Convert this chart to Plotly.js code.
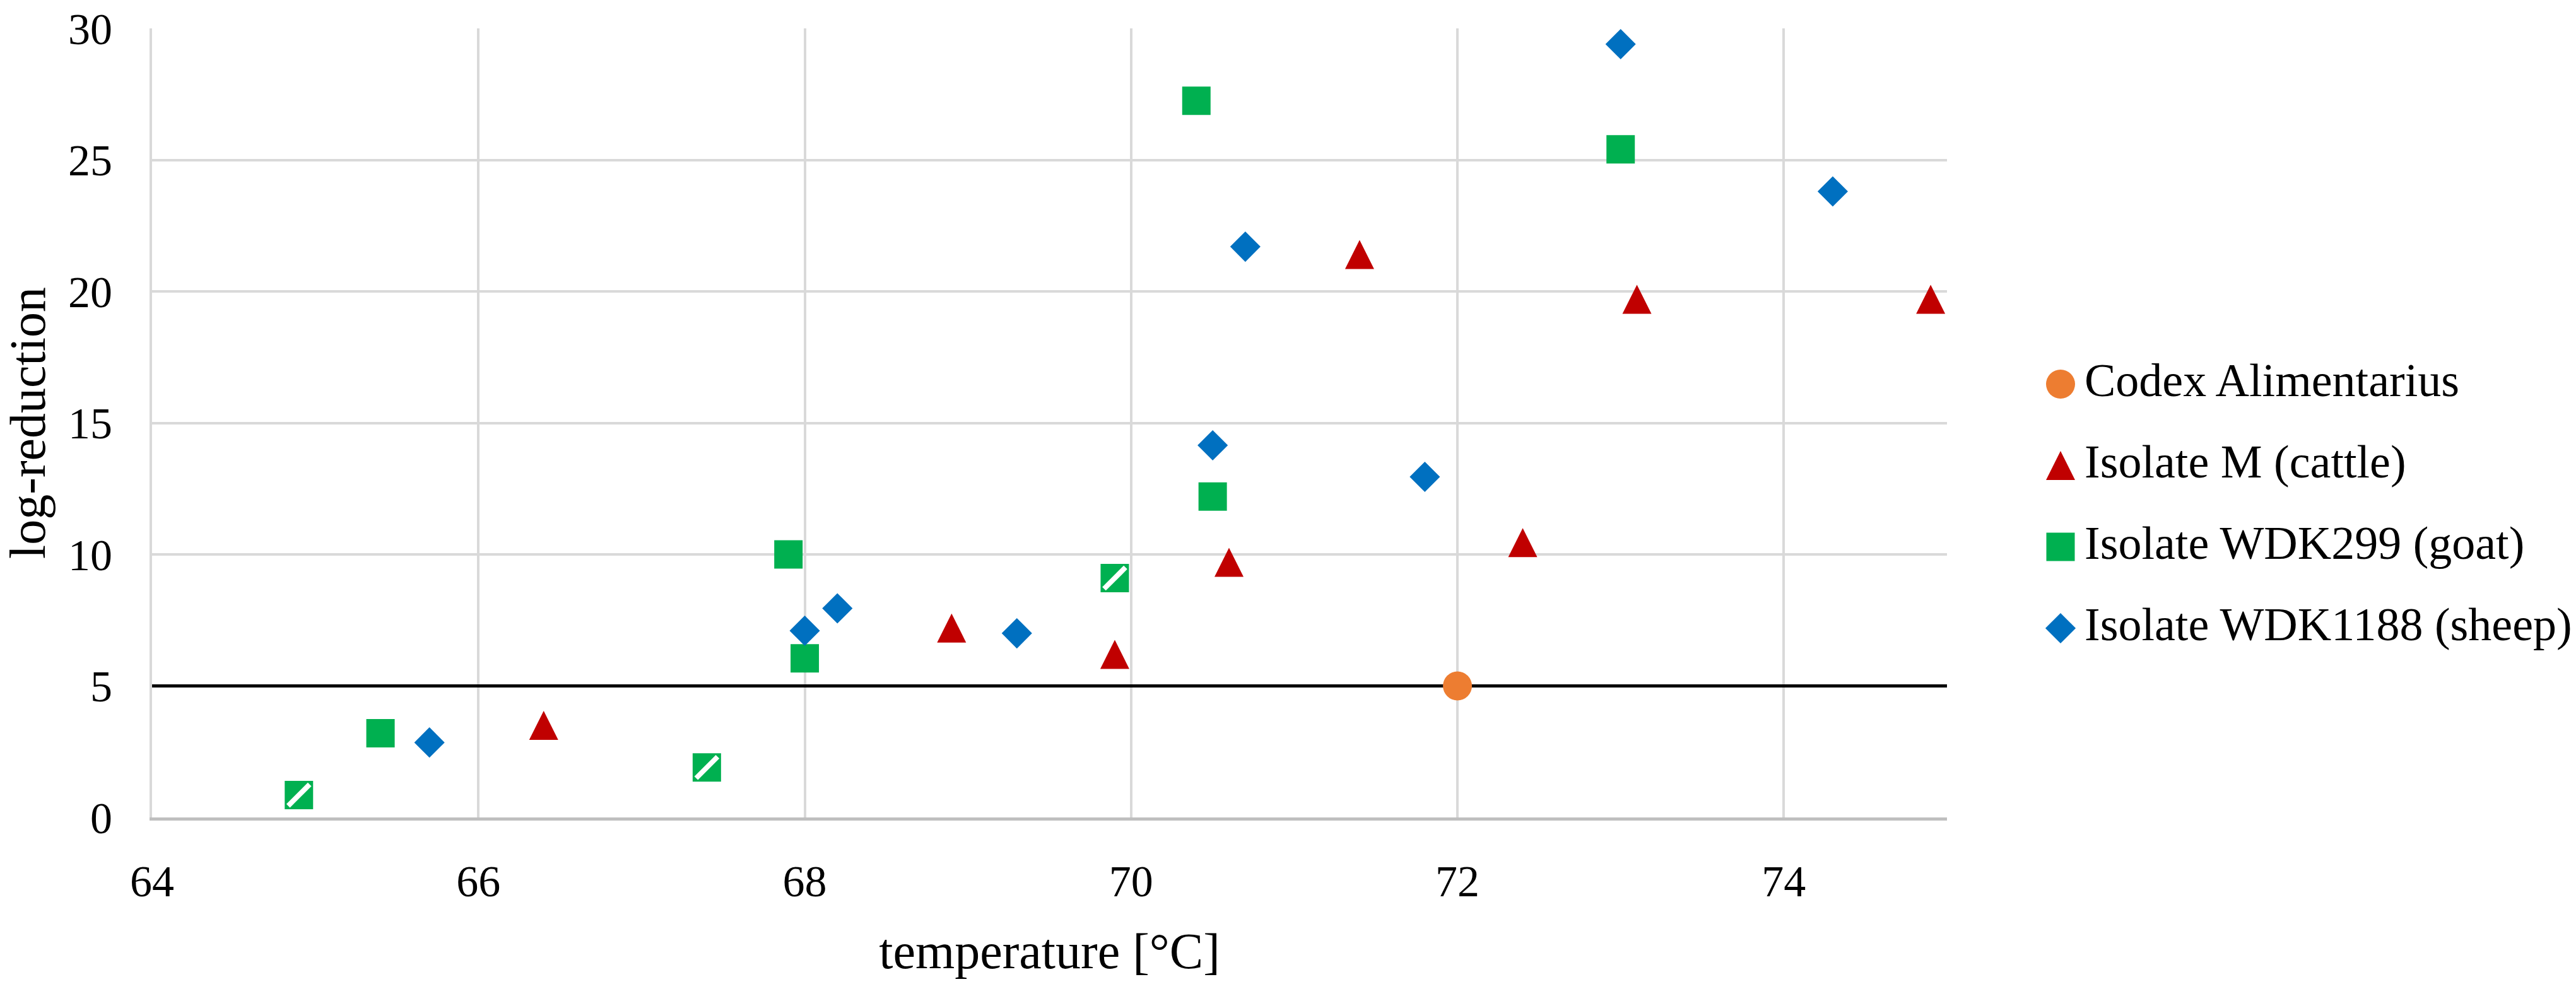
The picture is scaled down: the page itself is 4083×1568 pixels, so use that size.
<!DOCTYPE html>
<html>
<head>
<meta charset="utf-8">
<script src="https://cdn.plot.ly/plotly-3.0.1.min.js"></script>
<style>html,body{margin:0;padding:0;background:#fff;}#chart{width:4083px;height:1568px;}</style>
</head>
<body>
<div id="chart"></div>
<script>
// ---- data ----
var seriesNames = ["Codex Alimentarius", "Isolate M (cattle)", "Isolate WDK299 (goat)", "Isolate WDK1188 (sheep)"];
var codexX = [72];
var codexY = [5];
var cattleX = [66.4, 68.9, 69.9, 70.6, 71.4, 72.4, 73.1, 74.9];
var cattleY = [3.5, 7.2, 6.2, 9.7, 21.4, 10.45, 19.7, 19.7];
var goatX = [65.4, 67.9, 68.0, 70.4, 70.5, 73.0];
var goatY = [3.2, 10.0, 6.05, 27.25, 12.2, 25.4];
var goatHatchX = [64.9, 67.4, 69.9];
var goatHatchY = [0.85, 1.9, 9.1];
var sheepX = [65.7, 68.0, 68.2, 69.3, 70.5, 70.7, 71.8, 73.0, 74.3];
var sheepY = [2.85, 7.1, 7.95, 7.0, 14.15, 21.7, 12.95, 29.4, 23.8];
var xRange = [64, 75];
var yRange = [0, 30];
var xTickVals = [64, 66, 68, 70, 72, 74];
var yTickVals = [0, 5, 10, 15, 20, 25, 30];
var thresholdY = 5;

// ---- styles ----
var colors = ["#ED7D31", "#C00000", "#00B050", "#0070C0"];
var FONT = "Liberation Serif, Times New Roman, serif";
var triSize = 46;
var symbols = ["circle", "arrow-down", "square", "diamond"];
var sizes = [46, triSize, 45, 37];
var angles = [0, 180, 0, 0];
var standoffs = [0, triSize / 2, 0, 0];

function mk(i) {
  return {symbol: symbols[i], size: sizes[i], color: colors[i], angle: angles[i],
          standoff: standoffs[i], opacity: 1, line: {width: 0}};
}

var traces = [
  {x: xRange, y: xRange.map(function () { return thresholdY; }), mode: "lines", type: "scatter",
   name: "threshold", line: {color: "#000000", width: 5}, hoverinfo: "skip"},
  {x: codexX, y: codexY, mode: "markers", type: "scatter", name: seriesNames[0], marker: mk(0), cliponaxis: false},
  {x: cattleX, y: cattleY, mode: "markers", type: "scatter", name: seriesNames[1], marker: mk(1), cliponaxis: false},
  {x: goatX, y: goatY, mode: "markers", type: "scatter", name: seriesNames[2], marker: mk(2), cliponaxis: false},
  {x: goatHatchX, y: goatHatchY, mode: "markers", type: "scatter", name: seriesNames[2], marker: mk(2), cliponaxis: false},
  {x: goatHatchX, y: goatHatchY, mode: "markers", type: "scatter", name: seriesNames[2],
   marker: {symbol: "line-ne", size: 34, line: {color: "#ffffff", width: 8}}, cliponaxis: false},
  {x: sheepX, y: sheepY, mode: "markers", type: "scatter", name: seriesNames[3], marker: mk(3), cliponaxis: false}
];

// custom legend (large markers) on its own hidden axes
var legIdx = seriesNames.map(function (_, i) { return i; });
traces.push({
  x: legIdx.map(function () { return 0; }), y: legIdx, xaxis: "x2", yaxis: "y2",
  mode: "markers", type: "scatter", hoverinfo: "skip", cliponaxis: false,
  marker: {symbol: symbols, size: sizes, color: colors, angle: angles, standoff: standoffs, opacity: 1, line: {width: 0}}
});
traces.push({
  x: legIdx.map(function () { return 1; }), y: legIdx, xaxis: "x2", yaxis: "y2",
  mode: "text", type: "scatter", hoverinfo: "skip", cliponaxis: false,
  text: seriesNames, textposition: "middle right",
  textfont: {family: FONT, size: 74, color: "#000000"}
});
traces.forEach(function (t) { t.showlegend = false; });

var W = 4083, H = 1568, L = 241, R = 0, T = 45, B = 272;
var paperW = W - L - R;
var plotRightPx = 3086;
var xDomEnd = (plotRightPx - L) / paperW;
var legDom0 = 0.76;
var legStartPx = L + legDom0 * paperW;
var legUnit = 38;
var legMarkerPx = 3266;
var legA = -(legMarkerPx - legStartPx) / legUnit;
var legB = legA + (W - legStartPx) / legUnit;
var plotH = H - T - B;
var legTopPx = 609 - T, legStep = 129;
var y2Top = -legTopPx / legStep;
var y2Bottom = (plotH - legTopPx) / legStep;

var layout = {
  width: W, height: H,
  margin: {l: L, r: R, t: T, b: B, pad: 0},
  paper_bgcolor: "#ffffff", plot_bgcolor: "#ffffff",
  showlegend: false,
  font: {family: FONT, color: "#000000", size: 70},
  xaxis: {
    domain: [0, xDomEnd], range: xRange, tickvals: xTickVals, ticktext: xTickVals.map(String),
    showgrid: true, gridcolor: "#D9D9D9", gridwidth: 4,
    showline: true, linecolor: "#BFBFBF", linewidth: 5, zeroline: false,
    ticks: "", ticklabelstandoff: 36,
    tickfont: {family: FONT, size: 70, color: "#000000"},
    title: {text: "temperature [°C]", font: {family: FONT, size: 80, color: "#000000"}, standoff: 45},
    automargin: false, fixedrange: true
  },
  yaxis: {
    range: yRange, tickvals: yTickVals, ticktext: yTickVals.map(String),
    showgrid: true, gridcolor: "#D9D9D9", gridwidth: 4,
    showline: true, linecolor: "#D9D9D9", linewidth: 4, zeroline: false,
    ticks: "", ticklabelstandoff: 45,
    tickfont: {family: FONT, size: 70, color: "#000000"},
    title: {text: "log-reduction", font: {family: FONT, size: 80, color: "#000000"}, standoff: 25},
    automargin: false, fixedrange: true
  },
  xaxis2: {domain: [legDom0, 1], range: [legA, legB], visible: false, fixedrange: true, anchor: "y2"},
  yaxis2: {domain: [0, 1], range: [y2Bottom, y2Top], visible: false, fixedrange: true, anchor: "x2"}
};

Plotly.newPlot("chart", traces, layout, {displayModeBar: false, staticPlot: true});
</script>
</body>
</html>
